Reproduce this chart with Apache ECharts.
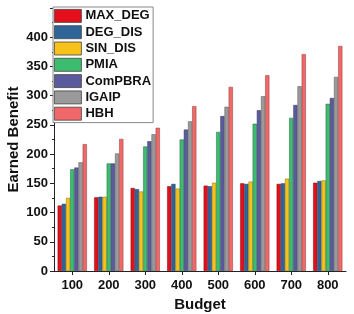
<!DOCTYPE html>
<html><head><meta charset="utf-8">
<script src="https://cdn.jsdelivr.net/npm/echarts@6/dist/echarts.min.js"></script>
<style>html,body{margin:0;padding:0;background:#fff}#c{width:354px;height:314px}</style>
</head><body><div id="c"></div>
<script>
const categories = ['100','200','300','400','500','600','700','800'];
const MAX_DEG = [112,126,142,145,146,150,149,151];
const DEG_DIS = [115,127,140,149,145,149,150,154];
const SIN_DIS = [125,127,136,141,151,153,158,155];
const PMIA    = [174,184,213,225,238,252,262,286];
const ComPBRA = [177,184,222,242,265,275,284,296];
const IGAIP   = [186,201,234,256,281,299,316,332];
const HBH     = [217,226,245,282,315,335,371,385];
const seriesNames = ['MAX_DEG','DEG_DIS','SIN_DIS','PMIA','ComPBRA','IGAIP','HBH'];
const seriesData = [MAX_DEG,DEG_DIS,SIN_DIS,PMIA,ComPBRA,IGAIP,HBH];
const colors = ['#e3101c','#2f6498','#f7c21a','#3dbb6e','#5a5b9c','#9a9a9a','#f06868'];
const borders = ['#7a0a10','#1d3d5e','#8a6d10','#236b3f','#33345a','#555555','#8a3a3a'];

const font = 'Liberation Sans, Arial, sans-serif';
const chart = echarts.init(document.getElementById('c'));
chart.setOption({
  animation:false,
  backgroundColor:'#fff',
  grid:{left:54,right:8,top:8,bottom:43,containLabel:false,outerBoundsMode:'none'},
  legend:{
    orient:'vertical', left:53, top:7,
    icon:'rect',
    itemWidth:27, itemHeight:13, itemGap:2.5,
    backgroundColor:'#fff', borderColor:'#888', borderWidth:1,
    padding:[2,2,2,1],
    textStyle:{fontFamily:font,fontWeight:'bold',fontSize:13,color:'#111',padding:[0,0,0,-1]},
    data:seriesNames.map((n,i)=>({name:n,itemStyle:{color:colors[i],borderColor:'#444',borderWidth:0.8}}))
  },
  xAxis:{
    type:'category', data:categories,
    name:'Budget', nameLocation:'middle', nameGap:26, nameMoveOverlap:false,
    nameTextStyle:{fontFamily:font,fontWeight:'bold',fontSize:15,color:'#111'},
    axisLine:{lineStyle:{color:'#222',width:1}},
    axisTick:{show:true,alignWithLabel:true,length:4,inside:false,lineStyle:{color:'#222'}},
    axisLabel:{fontFamily:font,fontWeight:'bold',fontSize:13,color:'#111',margin:8}
  },
  yAxis:{
    type:'value', min:0, max:450, interval:50,
    name:'Earned Benefit', nameLocation:'middle', nameGap:33, nameMoveOverlap:false,
    nameTextStyle:{fontFamily:font,fontWeight:'bold',fontSize:15,color:'#111'},
    axisLine:{show:true,lineStyle:{color:'#222',width:1}},
    axisTick:{show:true,length:4,lineStyle:{color:'#222'}},
    minorTick:{show:true,splitNumber:2,length:2,lineStyle:{color:'#222'}},
    splitLine:{show:false},
    axisLabel:{fontFamily:font,fontWeight:'bold',fontSize:13,color:'#111',margin:6,
      formatter:v=> v>400 ? '' : v}
  },
  series:seriesNames.map((n,i)=>({
    name:n, type:'bar', data:seriesData[i],
    barGap:'0%', barCategoryGap:'20%',
    itemStyle:{color:colors[i],borderColor:borders[i],borderWidth:0.5}
  }))
});
</script></body></html>
